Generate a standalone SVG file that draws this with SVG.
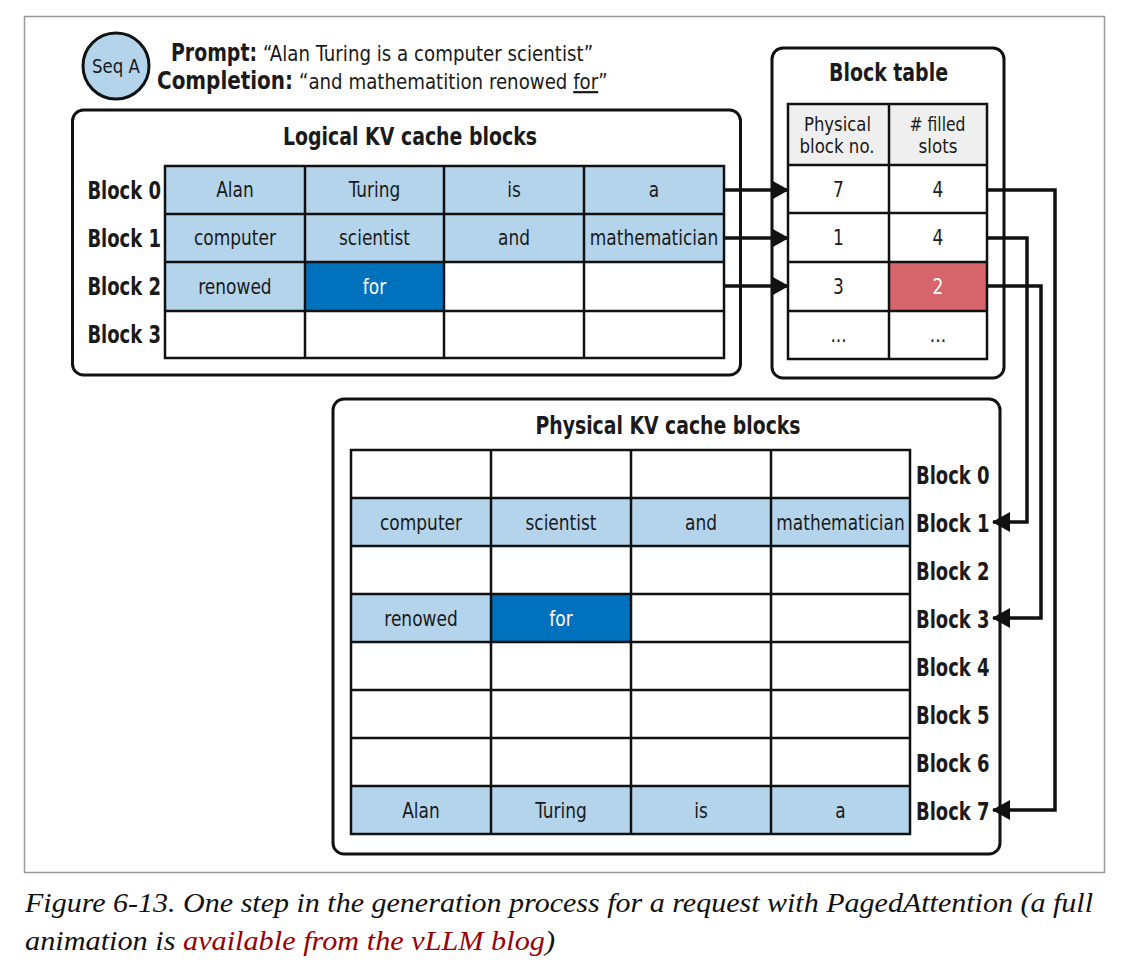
<svg xmlns="http://www.w3.org/2000/svg" width="1128" height="975" viewBox="0 0 1128 975">
<style>
text{font-family:"DejaVu Sans Condensed","DejaVu Sans","Liberation Sans",sans-serif;fill:#1a1a1a}
.cell{font-size:21px;text-anchor:middle}
.w{fill:#fff}
.lbl{font-size:25px;font-weight:bold}
.title{font-size:25px;font-weight:bold;text-anchor:middle}
.hb{font-size:24px;font-weight:bold}
.hr{font-size:22px}
.box{fill:#fff;stroke:#111;stroke-width:3}
.grid{stroke:#111;stroke-width:2.5}
.lb{fill:#b4d4ec}
.db{fill:#0071bc}
.red{fill:#d6666b}
.hd{fill:#efefef}
.wh{fill:#fff}
.conn{fill:none;stroke:#111;stroke-width:3.5}
.cap{font-family:"Liberation Serif","DejaVu Serif",serif;font-style:italic;font-size:28px;fill:#111}
</style>
<defs>
<marker id="ah" markerUnits="userSpaceOnUse" markerWidth="18" markerHeight="22" refX="17" refY="10" orient="auto">
<path d="M0,0 L18,10 L0,20 z" fill="#111"/>
</marker>
</defs>
<rect x="24.5" y="16.5" width="1080" height="856" fill="#fff" stroke="#999" stroke-width="1.5"/>

<g id="seq-a">
<circle cx="116" cy="66" r="33" fill="#b4d4ec" stroke="#111" stroke-width="3"/>
<text x="116" y="73" style="font-size:20px;text-anchor:middle" textLength="48" lengthAdjust="spacingAndGlyphs">Seq A</text>
</g>
<g id="header">
<text class="hb" x="171" y="61" textLength="86" lengthAdjust="spacingAndGlyphs">Prompt:</text>
<text class="hb" x="157" y="89" textLength="136" lengthAdjust="spacingAndGlyphs">Completion:</text>
<g transform="scale(0.92,1)">
<text class="hr" x="285.9" y="61">“Alan Turing is a computer scientist”</text>
<text class="hr" x="325" y="89">“and mathematition renowed <tspan text-decoration="underline">for</tspan>”</text>
</g>
</g>

<g id="logical">
<rect class="box" x="72.5" y="110" width="668" height="265" rx="11"/>
<text class="title" x="410" y="145" textLength="254" lengthAdjust="spacingAndGlyphs">Logical KV cache blocks</text>
<rect class="lb" x="165" y="166" width="559" height="96"/>
<rect class="lb" x="165" y="262" width="140" height="49"/>
<rect class="db" x="305" y="262" width="139" height="49"/>
<rect class="wh" x="444" y="262" width="280" height="49"/>
<rect class="wh" x="165" y="311" width="559" height="47"/>
<g class="grid">
<rect x="165" y="166" width="559" height="192" fill="none"/>
<line x1="165" y1="214" x2="724" y2="214"/>
<line x1="165" y1="262" x2="724" y2="262"/>
<line x1="165" y1="311" x2="724" y2="311"/>
<line x1="305" y1="166" x2="305" y2="358"/>
<line x1="444" y1="166" x2="444" y2="358"/>
<line x1="584" y1="166" x2="584" y2="358"/>
</g>
<g transform="scale(0.8,1)" text-anchor="end">
<text class="lbl" x="201.25" y="199">Block 0</text>
<text class="lbl" x="201.25" y="247">Block 1</text>
<text class="lbl" x="201.25" y="295">Block 2</text>
<text class="lbl" x="201.25" y="343">Block 3</text>
</g>
<g transform="scale(0.9,1)">
<text class="cell" x="261.1" y="197">Alan</text>
<text class="cell" x="416.1" y="197">Turing</text>
<text class="cell" x="571.1" y="197">is</text>
<text class="cell" x="726.7" y="197">a</text>
<text class="cell" x="261.1" y="245">computer</text>
<text class="cell" x="416.1" y="245">scientist</text>
<text class="cell" x="571.1" y="245">and</text>
<text class="cell" x="726.7" y="245">mathematician</text>
<text class="cell" x="261.1" y="294">renowed</text>
<text class="cell w" x="416.1" y="294">for</text>
</g>
</g>

<g id="block-table">
<rect class="box" x="772" y="48" width="232" height="330" rx="11"/>
<text class="title" x="888.5" y="81" textLength="119" lengthAdjust="spacingAndGlyphs">Block table</text>
<rect class="hd" x="788" y="104" width="199" height="61"/>
<rect class="wh" x="788" y="165" width="199" height="194"/>
<rect class="red" x="889" y="262" width="98" height="49"/>
<g class="grid">
<rect x="788" y="104" width="199" height="255" fill="none"/>
<line x1="788" y1="165" x2="987" y2="165"/>
<line x1="788" y1="213" x2="987" y2="213"/>
<line x1="788" y1="262" x2="987" y2="262"/>
<line x1="788" y1="311" x2="987" y2="311"/>
<line x1="889" y1="104" x2="889" y2="359"/>
</g>
<text class="cell" x="837.5" y="131" style="font-size:20px" textLength="67" lengthAdjust="spacingAndGlyphs">Physical</text>
<text class="cell" x="837" y="153" style="font-size:20px" textLength="75" lengthAdjust="spacingAndGlyphs">block no.</text>
<text class="cell" x="937.5" y="131" style="font-size:20px" textLength="56" lengthAdjust="spacingAndGlyphs"># filled</text>
<text class="cell" x="938" y="153" style="font-size:20px" textLength="39" lengthAdjust="spacingAndGlyphs">slots</text>
<g transform="scale(0.9,1)">
<text class="cell" x="931.7" y="197">7</text>
<text class="cell" x="1042.2" y="197">4</text>
<text class="cell" x="931.7" y="245">1</text>
<text class="cell" x="1042.2" y="245">4</text>
<text class="cell" x="931.7" y="294">3</text>
<text class="cell w" x="1042.2" y="294">2</text>
<text class="cell" x="931.7" y="342">...</text>
<text class="cell" x="1042.2" y="342">...</text>
</g>
</g>

<g id="physical">
<rect class="box" x="333" y="399" width="667" height="455" rx="11"/>
<text class="title" x="668" y="434" textLength="265" lengthAdjust="spacingAndGlyphs">Physical KV cache blocks</text>
<rect class="lb" x="351" y="498" width="559" height="48"/>
<rect class="lb" x="351" y="594" width="140" height="48"/>
<rect class="db" x="491" y="594" width="140" height="48"/>
<rect class="lb" x="351" y="786" width="559" height="48"/>
<g class="grid">
<rect x="351" y="450" width="559" height="384" fill="none"/>
<line x1="351" y1="498" x2="910" y2="498"/>
<line x1="351" y1="546" x2="910" y2="546"/>
<line x1="351" y1="594" x2="910" y2="594"/>
<line x1="351" y1="642" x2="910" y2="642"/>
<line x1="351" y1="690" x2="910" y2="690"/>
<line x1="351" y1="738" x2="910" y2="738"/>
<line x1="351" y1="786" x2="910" y2="786"/>
<line x1="491" y1="450" x2="491" y2="834"/>
<line x1="631" y1="450" x2="631" y2="834"/>
<line x1="771" y1="450" x2="771" y2="834"/>
</g>
<g transform="scale(0.8,1)">
<text class="lbl" x="1145" y="484">Block 0</text>
<text class="lbl" x="1145" y="532">Block 1</text>
<text class="lbl" x="1145" y="580">Block 2</text>
<text class="lbl" x="1145" y="628">Block 3</text>
<text class="lbl" x="1145" y="676">Block 4</text>
<text class="lbl" x="1145" y="724">Block 5</text>
<text class="lbl" x="1145" y="772">Block 6</text>
<text class="lbl" x="1145" y="820">Block 7</text>
</g>
<g transform="scale(0.9,1)">
<text class="cell" x="467.8" y="530">computer</text>
<text class="cell" x="623.3" y="530">scientist</text>
<text class="cell" x="778.9" y="530">and</text>
<text class="cell" x="933.9" y="530">mathematician</text>
<text class="cell" x="467.8" y="626">renowed</text>
<text class="cell w" x="623.3" y="626">for</text>
<text class="cell" x="467.8" y="818">Alan</text>
<text class="cell" x="623.3" y="818">Turing</text>
<text class="cell" x="778.9" y="818">is</text>
<text class="cell" x="933.9" y="818">a</text>
</g>
</g>

<g id="connectors">
<path class="conn" d="M724,190 H788" marker-end="url(#ah)"/>
<path class="conn" d="M724,238 H788" marker-end="url(#ah)"/>
<path class="conn" d="M724,286 H788" marker-end="url(#ah)"/>
<path class="conn" d="M987,190 H1055 V810 H993" marker-end="url(#ah)"/>
<path class="conn" d="M987,238 H1027 V522 H993" marker-end="url(#ah)"/>
<path class="conn" d="M987,286 H1041 V618 H993" marker-end="url(#ah)"/>
</g>

<g id="caption">
<text class="cap" x="25" y="912" textLength="1068" lengthAdjust="spacingAndGlyphs">Figure 6-13. One step in the generation process for a request with PagedAttention (a full</text>
<text class="cap" x="25" y="950" textLength="530" lengthAdjust="spacingAndGlyphs">animation is <tspan fill="#990000">available from the vLLM blog</tspan>)</text>
</g>
</svg>
